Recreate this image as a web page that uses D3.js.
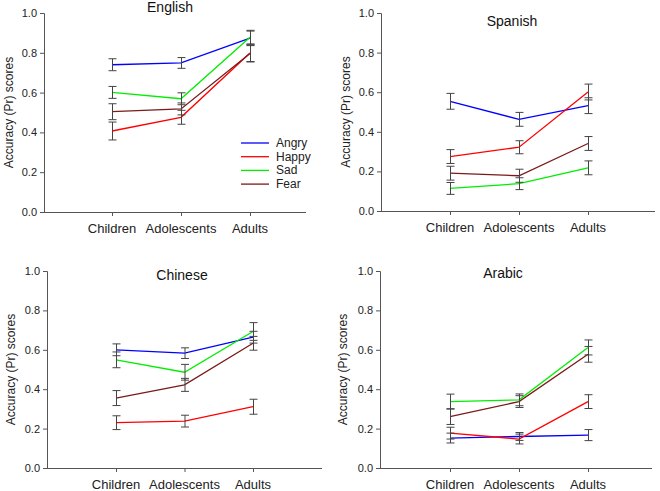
<!DOCTYPE html>
<html><head><meta charset="utf-8">
<script src="https://cdn.jsdelivr.net/npm/d3@7"></script>
<style>body{margin:0;background:#fff}svg{display:block}text{font-family:"Liberation Sans",Arial,sans-serif}</style>
</head><body>
<svg id="c" width="660" height="491"></svg>
<script>
const categories = ["Children", "Adolescents", "Adults"];
const emotions = ["Angry", "Happy", "Sad", "Fear"];
const colors = ["#0000ff", "#ff0000", "#00ee00", "#7a1a1a"];
const yTicks = [0, 0.2, 0.4, 0.6, 0.8, 1.0];
const languages = ["English", "Spanish", "Chinese", "Arabic"];

// values [emotion][age]
const englishMeans = [[0.740, 0.749, 0.874], [0.407, 0.476, 0.799], [0.601, 0.569, 0.878], [0.504, 0.518, 0.796]];
const englishErr   = [[0.030, 0.027, 0.035], [0.045, 0.035, 0.045], [0.030, 0.030, 0.035], [0.040, 0.030, 0.040]];
const spanishMeans = [[0.554, 0.463, 0.532], [0.275, 0.322, 0.601], [0.114, 0.138, 0.218], [0.191, 0.178, 0.341]];
const spanishErr   = [[0.040, 0.035, 0.040], [0.035, 0.033, 0.040], [0.030, 0.030, 0.035], [0.035, 0.033, 0.035]];
const chineseMeans = [[0.600, 0.583, 0.664], [0.230, 0.238, 0.311], [0.549, 0.486, 0.693], [0.355, 0.422, 0.633]];
const chineseErr   = [[0.030, 0.027, 0.030], [0.035, 0.030, 0.038], [0.040, 0.040, 0.045], [0.038, 0.033, 0.035]];
const arabicMeans  = [[0.152, 0.160, 0.167], [0.177, 0.147, 0.337], [0.337, 0.346, 0.612], [0.261, 0.337, 0.577]];
const arabicErr    = [[0.025, 0.020, 0.028], [0.030, 0.025, 0.035], [0.038, 0.030, 0.038], [0.040, 0.030, 0.040]];

const means = [englishMeans, spanishMeans, chineseMeans, arabicMeans];
const errs = [englishErr, spanishErr, chineseErr, arabicErr];

// layout per panel
const layout = [
  {x0: 44, x1: 306, yTop: 13, yBot: 212, c0: 112, c2: 250, titleX: 170, titleY: 12, labX: 13},
  {x0: 381, x1: 655, yTop: 13, yBot: 211, c0: 450, c2: 588, titleX: 512, titleY: 26, labX: 350},
  {x0: 47, x1: 322, yTop: 271, yBot: 468, c0: 116, c2: 253, titleX: 182, titleY: 280, labX: 15},
  {x0: 380, x1: 652, yTop: 271, yBot: 468, c0: 450, c2: 588, titleX: 503, titleY: 278, labX: 347}
];

const svg = d3.select("#c");
const axisColor = "#555";

languages.forEach((lang, p) => {
  const L = layout[p];
  const g = svg.append("g");
  const y = d3.scaleLinear().domain([0, 1]).range([L.yBot, L.yTop]);
  const x = d3.scalePoint().domain(categories).range([L.c0, L.c2]);

  // y axis
  const ya = g.append("g").attr("transform", `translate(${L.x0},0)`)
    .call(d3.axisLeft(y).tickValues(yTicks).tickFormat(d3.format(".1f")).tickSize(4).tickPadding(3));
  ya.select(".domain").attr("stroke", axisColor);
  ya.selectAll(".tick line").attr("stroke", axisColor);
  ya.selectAll(".tick text").attr("font-size", 11).attr("fill", "#222").attr("font-family", "Liberation Sans, Arial, sans-serif");

  // x axis
  g.append("line").attr("x1", L.x0).attr("x2", L.x1).attr("y1", L.yBot + 0.5).attr("y2", L.yBot + 0.5).attr("stroke", axisColor);
  categories.forEach(c => {
    g.append("line").attr("x1", x(c) + 0.5).attr("x2", x(c) + 0.5).attr("y1", L.yBot).attr("y2", L.yBot + 4).attr("stroke", axisColor);
    g.append("text").attr("x", x(c)).attr("y", L.yBot + 21).attr("text-anchor", "middle")
      .attr("font-size", 13).attr("fill", "#222").text(c);
  });

  // y label
  g.append("text").attr("transform", `translate(${L.labX},${(L.yTop + L.yBot) / 2}) rotate(-90)`)
    .attr("text-anchor", "middle").attr("font-size", 12).attr("fill", "#222").text("Accuracy (Pr) scores");

  // title
  g.append("text").attr("x", L.titleX).attr("y", L.titleY).attr("text-anchor", "middle")
    .attr("font-size", 14).attr("fill", "#111").text(lang);

  const line = d3.line().x((d, i) => x(categories[i])).y(d => y(d));
  emotions.forEach((e, k) => {
    g.append("path").datum(means[p][k]).attr("d", line).attr("fill", "none")
      .attr("stroke", colors[k]).attr("stroke-width", 1.3);
  });
  // error bars
  emotions.forEach((e, k) => {
    means[p][k].forEach((m, i) => {
      const cx = x(categories[i]) + 0.5;
      const lo = y(m - errs[p][k][i]), hi = y(m + errs[p][k][i]);
      const eg = g.append("g").attr("stroke", "#444").attr("stroke-width", 1);
      eg.append("line").attr("x1", cx).attr("x2", cx).attr("y1", lo).attr("y2", hi);
      eg.append("line").attr("x1", cx - 4).attr("x2", cx + 4).attr("y1", lo).attr("y2", lo);
      eg.append("line").attr("x1", cx - 4).attr("x2", cx + 4).attr("y1", hi).attr("y2", hi);
    });
  });

  if (p === 0) {
    const lg = g.append("g");
    emotions.forEach((e, k) => {
      const ly = 143 + k * 13.7;
      lg.append("line").attr("x1", 241).attr("x2", 269).attr("y1", ly).attr("y2", ly)
        .attr("stroke", colors[k]).attr("stroke-width", 1.3);
      lg.append("text").attr("x", 276).attr("y", ly + 4).attr("font-size", 12).attr("fill", "#222").text(e);
    });
  }
});
</script>
</body></html>
